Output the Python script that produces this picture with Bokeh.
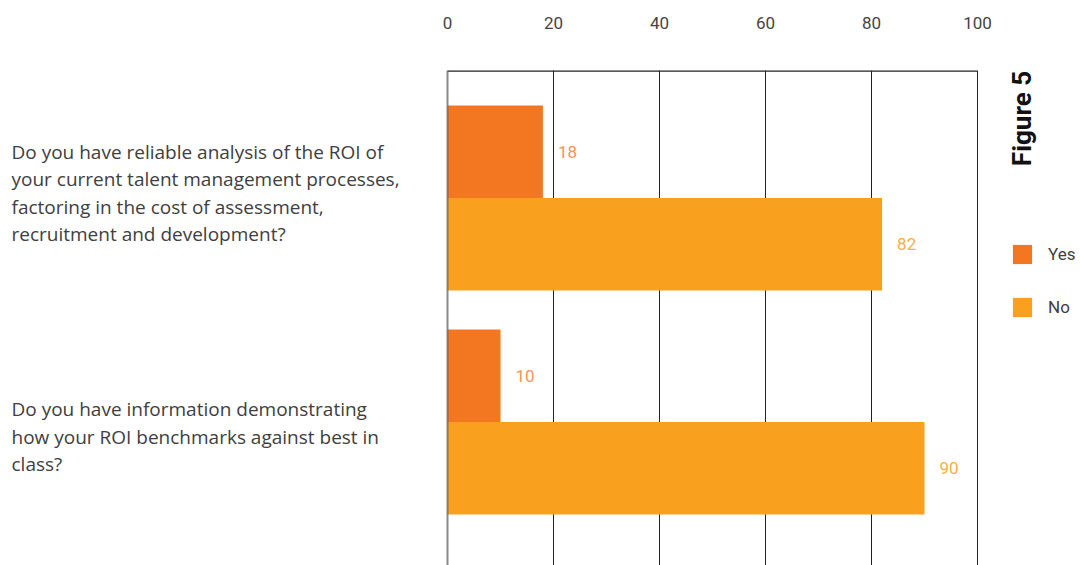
from bokeh.plotting import figure
from bokeh.models import (Range1d, FixedTicker, Span, Label, LabelSet, ColumnDataSource,
                          Legend, LegendItem)
from bokeh.core.properties import value
from bokeh.embed import file_html
from bokeh.resources import INLINE
import math

# ---- data ----
questions = [
    "Do you have reliable analysis of the ROI of\nyour current talent management processes,\nfactoring in the cost of assessment,\nrecruitment and development?",
    "Do you have information demonstrating\nhow your ROI benchmarks against best in\nclass?",
]
yes_values = [18, 10]
no_values = [82, 90]
series_names = ["Yes", "No"]
x_ticks = [0, 20, 40, 60, 80, 100]
figure_title = "Figure 5"

YES_COLOR = "#F37721"
NO_COLOR = "#F9A11F"
YES_LABEL_COLOR = "#F6935A"
NO_LABEL_COLOR = "#FAAE45"
TEXT_COLOR = "#404040"
FONT = "Roboto"
Q_FONT = "Open Sans"

BAR_H = 0.413
idx = list(range(len(questions)))
yes_y = [i - BAR_H / 2 for i in idx]
no_y = [i + BAR_H / 2 for i in idx]

PX_PER_UNIT = 5.3
X_START = -447 / PX_PER_UNIT
X_END = 100 + 103 / PX_PER_UNIT
Y_TOP = -0.569
Y_BOTTOM = 1.641

p = figure(width=1080, height=565, output_backend="svg", toolbar_location=None,
           x_range=Range1d(X_START, X_END), y_range=Range1d(Y_BOTTOM, Y_TOP),
           x_axis_location="above", y_axis_location=None,
           min_border_left=0, min_border_right=0, min_border_top=70,
           min_border_bottom=0)
p.outline_line_color = None
p.background_fill_color = "white"
p.border_fill_color = "white"

# grid
p.ygrid.visible = False
p.xgrid.ticker = FixedTicker(ticks=x_ticks[1:])
p.xgrid.grid_line_color = "#222222"
p.xgrid.grid_line_width = 1

# top axis
ax = p.xaxis[0]
ax.ticker = FixedTicker(ticks=x_ticks)
ax.axis_line_color = None
ax.major_tick_line_color = None
ax.minor_tick_line_color = None
ax.major_label_text_font = FONT
ax.major_label_text_font_size = "17px"
ax.major_label_text_color = "#444444"
ax.major_label_standoff = 36

src_yes = ColumnDataSource(dict(y=yes_y, v=yes_values, t=[str(v) for v in yes_values]))
src_no = ColumnDataSource(dict(y=no_y, v=no_values, t=[str(v) for v in no_values]))

r_yes = p.hbar(y="y", right="v", left=0, height=BAR_H, source=src_yes,
               fill_color=YES_COLOR, line_color=None)
r_no = p.hbar(y="y", right="v", left=0, height=BAR_H, source=src_no,
              fill_color=NO_COLOR, line_color=None)

# zero line & top frame line
p.add_layout(Span(location=0, dimension="height", line_color="#5a5a5a",
                  line_width=2, line_alpha=0.7, level="overlay"))
p.segment(x0=[x_ticks[0]], x1=[x_ticks[-1]], y0=[Y_TOP], y1=[Y_TOP],
          line_color="#222222", line_width=2.5)

# value labels
p.add_layout(LabelSet(x="v", y="y", text="t", source=src_yes, x_offset=15,
                      text_baseline="middle", text_font=value(FONT),
                      text_font_size="17px", text_color=YES_LABEL_COLOR))
p.add_layout(LabelSet(x="v", y="y", text="t", source=src_no, x_offset=15,
                      text_baseline="middle", text_font=value(FONT),
                      text_font_size="17px", text_color=NO_LABEL_COLOR))

# question labels
q_offsets = [5, -15]
for i, q in enumerate(questions):
    p.add_layout(Label(x=11, x_units="screen", y=i, text=q, y_offset=q_offsets[i],
                       text_align="left", text_baseline="middle",
                       text_font=Q_FONT, text_font_size="19px", text_color=TEXT_COLOR,
                       text_line_height=1.06))

# figure title
p.add_layout(Label(x=1021, y=447, x_units="screen", y_units="screen", text=figure_title,
                   angle=math.pi / 2, text_align="center", text_baseline="middle",
                   text_font=FONT, text_font_style="bold", text_font_size="26px",
                   text_color="#111111"))

legend = Legend(items=[LegendItem(label=series_names[0], renderers=[r_yes]),
                       LegendItem(label=series_names[1], renderers=[r_no])],
                location=(1010, 246), glyph_width=24, glyph_height=24, spacing=29,
                label_standoff=14, padding=0, margin=0, border_line_color=None,
                background_fill_alpha=0, label_text_font=FONT,
                label_text_font_size="17px", label_text_color=TEXT_COLOR,
                label_height=24)
p.add_layout(legend)

open("out.html", "w").write(file_html(p, INLINE))
